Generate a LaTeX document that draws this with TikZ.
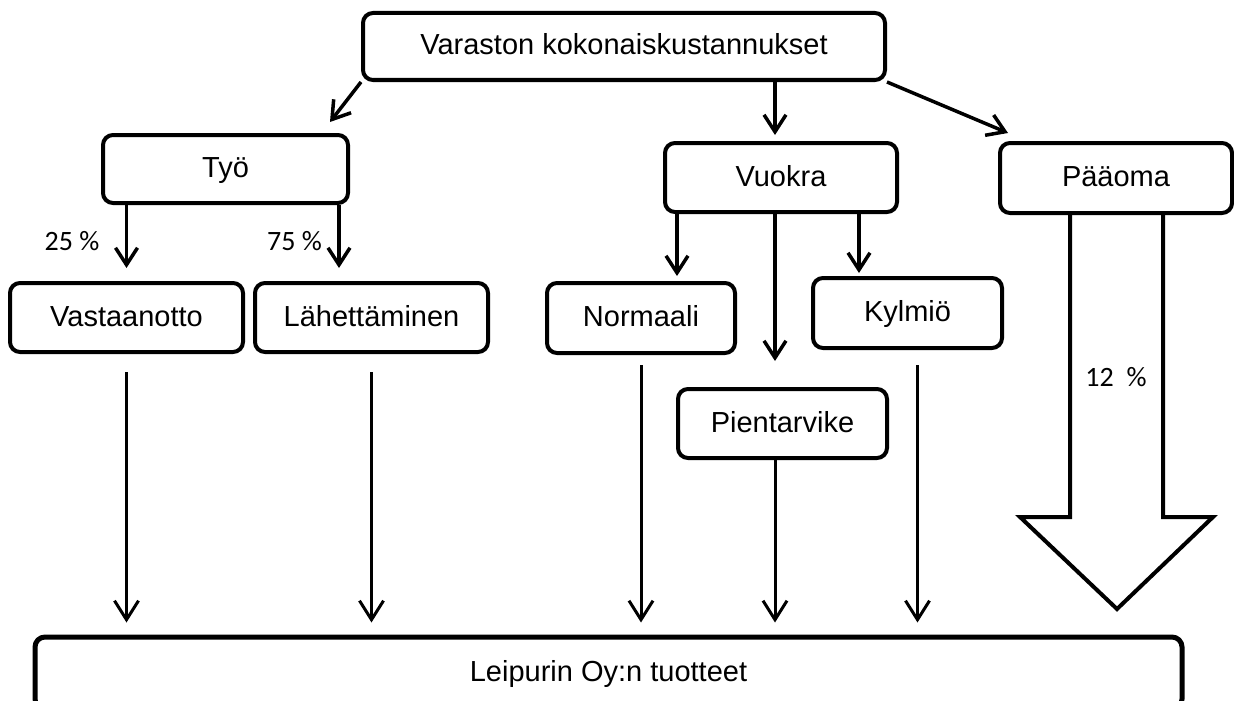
\documentclass[tikz,border=0pt]{standalone}
\usepackage{fontspec}
\setmainfont{Liberation Sans}
\newfontfamily\pctfont{Carlito}
\usetikzlibrary{arrows.meta}
\usetikzlibrary{calc}

\begin{document}
\begin{tikzpicture}[x=1pt, y=-1pt,
			box/.style={draw, line width=4pt, rounded corners=10pt, inner sep=0pt, text height=21pt, text depth=4pt, font=\fontsize{29}{34}\selectfont},
			flow/.style={line width=3.5pt, -{Straight Barb[length=17pt, width=22pt]}},
			feed/.style={line width=3pt, -{Straight Barb[length=19pt, width=24pt]}},
			pct/.style={inner sep=0pt, font=\pctfont\fontsize{28}{32}\selectfont}]
			\useasboundingbox (0, 0) rectangle (1234, 701);
			% boxes
			\node[box, minimum width=522pt, minimum height=67pt] (total) at (624, 46.5) {Varaston kokonaiskustannukset};
			\node[box, minimum width=245pt, minimum height=68pt] (tyo) at (225.5, 169) {Työ};
			\node[box, minimum width=232pt, minimum height=69pt] (vuokra) at (781, 177.5) {Vuokra};
			\node[box, minimum width=232pt, minimum height=70pt] (paaoma) at (1116, 178) {Pääoma};
			\node[box, minimum width=233pt, minimum height=69pt] (vast) at (126.5, 317.5) {Vastaanotto};
			\node[box, minimum width=233pt, minimum height=69pt] (lahet) at (371.5, 317.5) {Lähettäminen};
			\node[box, minimum width=188pt, minimum height=70pt] (normaali) at (641, 318) {Normaali};
			\node[box, minimum width=189pt, minimum height=70pt] (kylmio) at (907.5, 313) {Kylmiö};
			\node[box, minimum width=209pt, minimum height=69pt] (pient) at (782.5, 423.5) {Pientarvike};
			\node[box, line width=5pt, minimum width=1147pt, minimum height=72pt] (leip) at (608.5, 673) {Leipurin Oy:n tuotteet};
			% helper points
			\coordinate (col) at (775, 0);
			\coordinate (tyoR) at ($(tyo.south east)+(-11, 0)$);
			\coordinate (vl) at ($(vuokra.south west)+(14, 0)$);
			\coordinate (vr) at ($(vuokra.south east)+(-40, 0)$);
			\coordinate (kx) at ([xshift=10pt]kylmio.south);
			% top level
			\draw[flow] (total.south west) -- ($(tyo.north east)+(-20, -11)$);
			\draw[flow, shorten >=6pt] (total.south -| col) -- (vuokra.north -| col);
			\draw[flow] (total.south east) -- ($(paaoma.north west)+(10, -8)$);
			% Työ split
			\draw[flow, shorten >=13pt] (tyo.south -| vast.north) -- (vast.north);
			\draw[flow, shorten >=13pt] (tyoR) -- (tyoR |- lahet.north);
			\node[pct, anchor=east] (p25) at ($(vast.north)+(-27, -40)$) {25 \%};
			\node[pct, anchor=east] (p75) at ($(tyoR |- lahet.north)+(-17, -40)$) {75 \%};
			% Vuokra split
			\draw[flow, shorten >=5pt] (vl) -- (vl |- normaali.north);
			\draw[flow, shorten >=3pt] (vr) -- (vr |- kylmio.north);
			\draw[flow, shorten >=26pt] (vuokra.south -| col) -- (pient.north -| col);
			% into the products
			\draw[feed, shorten >=12pt] ([yshift=-18pt]vast.south) -- (vast.south |- leip.north);
			\draw[feed, shorten >=12pt] ([yshift=-18pt]lahet.south) -- (lahet.south |- leip.north);
			\draw[feed, shorten >=12pt] ([yshift=-10pt]normaali.south) -- (normaali.south |- leip.north);
			\draw[feed, shorten >=12pt] (pient.south -| col) -- (leip.north -| col);
			\draw[feed, shorten >=12pt] ([yshift=-15pt]kx) -- (kx |- leip.north);
			% big arrow for Pääoma
			\draw[line width=4pt, line join=miter] ($(paaoma.south)+(-46, 0)$) -- ++(0, 302) -- ++(-50, 0) -- ++(97, 92) -- ++(96, -92) -- ++(-50, 0) -- ++(0, -302);
			\node[pct] (p12) at ($(paaoma.south)+(0, 162)$) {12\ \ \%};
		\end{tikzpicture}
\end{document}
